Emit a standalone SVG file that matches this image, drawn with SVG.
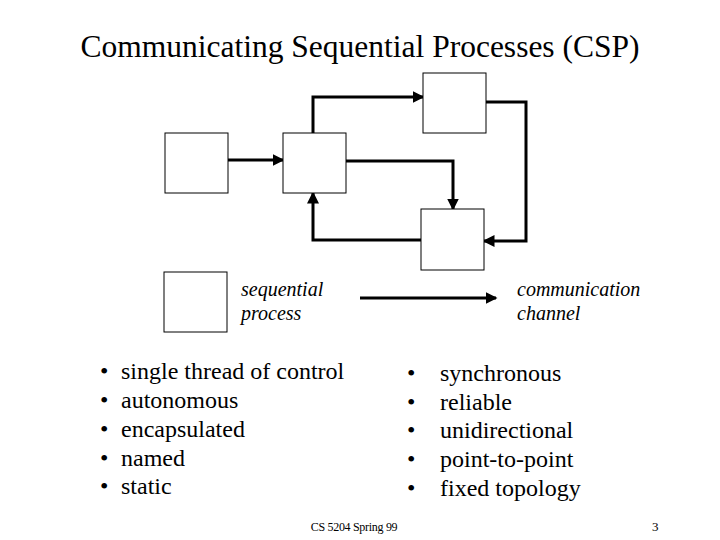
<svg xmlns="http://www.w3.org/2000/svg" width="720" height="540" viewBox="0 0 720 540">
<style>
.box{fill:#fff;stroke:#000;stroke-width:1}
.c{fill:none;stroke:#000;stroke-width:3}
text{font-family:"Liberation Serif","Times New Roman",serif;fill:#000}
.t{font-size:24px}
.i{font-size:20px;font-style:italic}
</style>
<defs><marker id="a" markerWidth="4" markerHeight="4" refX="3.5" refY="2" orient="auto" markerUnits="strokeWidth"><path d="M0,0L4,2L0,4z" fill="#000"/></marker></defs>
<rect width="720" height="540" fill="#fff"/>
<text x="360" y="57" text-anchor="middle" font-size="31.5">Communicating Sequential Processes (CSP)</text>
<g id="connectors">
<path class="c" d="M228,160H283" marker-end="url(#a)"/>
<path class="c" d="M313,133V97H423" marker-end="url(#a)"/>
<path class="c" d="M346,161H453V209" marker-end="url(#a)"/>
<path class="c" d="M486,102H526V241H484" marker-end="url(#a)"/>
<path class="c" d="M421,240H313V193" marker-end="url(#a)"/>
<path class="c" d="M360,298H496" marker-end="url(#a)"/>
</g>
<g id="p1"><rect class="box" x="165" y="133" width="63" height="60"/></g>
<g id="p2"><rect class="box" x="283" y="133" width="63" height="60"/></g>
<g id="p3"><rect class="box" x="423" y="73" width="63" height="60"/></g>
<g id="p4"><rect class="box" x="421" y="209" width="63" height="61"/></g>
<g id="legend"><rect class="box" x="164" y="272" width="63" height="60"/></g>
<text class="i" x="241" y="296">sequential</text>
<text class="i" x="241" y="320">process</text>
<text class="i" x="517" y="296">communication</text>
<text class="i" x="517" y="320">channel</text>
<g class="t">
<text x="100" y="379">•</text><text x="121" y="379">single thread of control</text>
<text x="100" y="408">•</text><text x="121" y="408">autonomous</text>
<text x="100" y="437">•</text><text x="121" y="437">encapsulated</text>
<text x="100" y="466">•</text><text x="121" y="466">named</text>
<text x="100" y="494">•</text><text x="121" y="494">static</text>
<text x="407" y="381">•</text><text x="440" y="381">synchronous</text>
<text x="407" y="410">•</text><text x="440" y="410">reliable</text>
<text x="407" y="438">•</text><text x="440" y="438">unidirectional</text>
<text x="407" y="467">•</text><text x="440" y="467">point-to-point</text>
<text x="407" y="496">•</text><text x="440" y="496">fixed topology</text>
</g>
<text x="354" y="531" text-anchor="middle" font-size="12" letter-spacing="-0.3">CS 5204 Spring 99</text>
<text x="652" y="531" font-size="13">3</text>
</svg>
